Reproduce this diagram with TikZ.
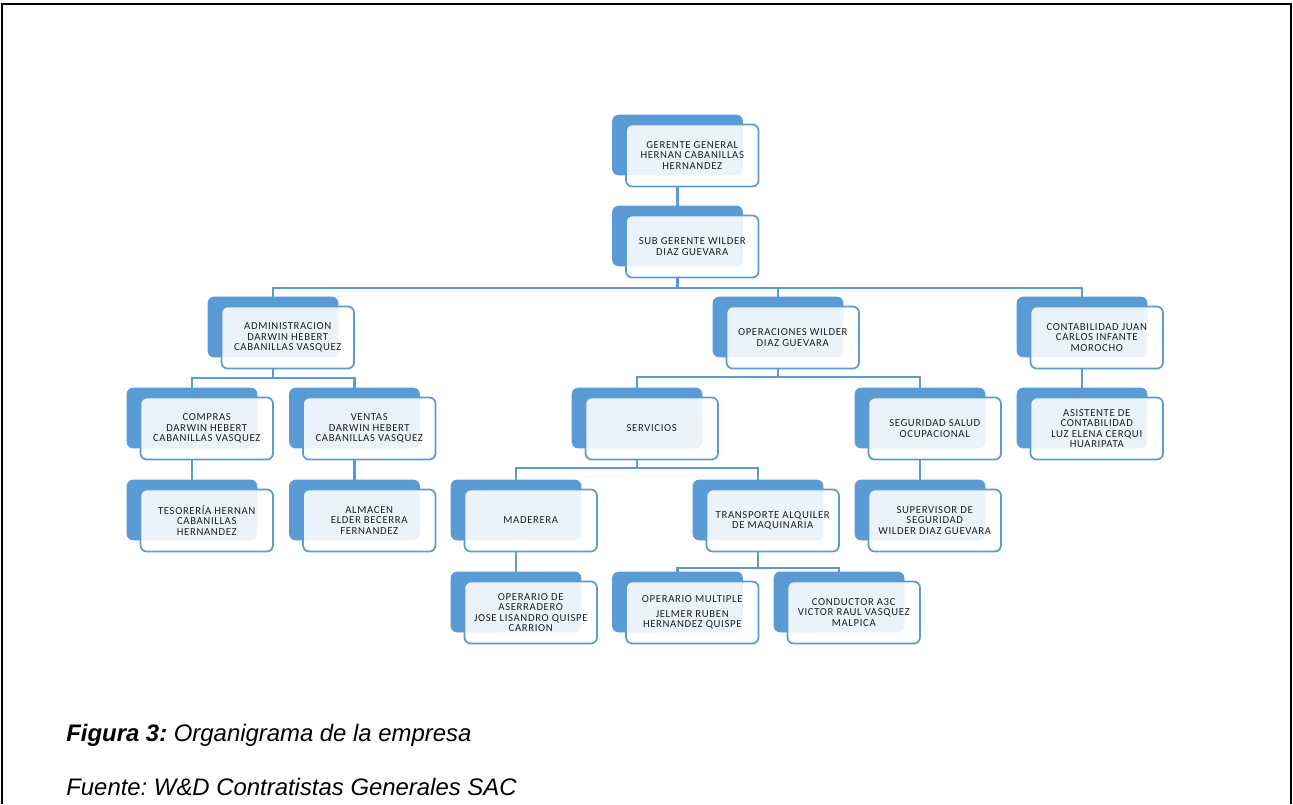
\documentclass[tikz,border=0pt]{standalone}
\usepackage{fontspec}
\setmainfont{Liberation Sans}
\newfontfamily\orgfont[LetterSpace=6]{Carlito}
\usepackage{tikz}
\usetikzlibrary{positioning}
\frenchspacing

\definecolor{azul}{HTML}{5B9BD5}
\definecolor{texto}{HTML}{1E1E1E}

\tikzset{
  atras/.style={fill=azul, draw=azul, rounded corners=3.5pt,
    minimum width=2.6cm, minimum height=1.2cm, inner sep=0pt},
  frente/.style={fill=white, fill opacity=0.88, text opacity=1, draw=azul,
    line width=1pt, rounded corners=3.5pt, minimum width=2.65cm,
    minimum height=1.24cm, inner sep=1pt, align=center, text=texto,
    font=\orgfont\fontsize{6.1}{5.9}\selectfont},
  conn/.style={draw=azul, line width=1.3pt},
  pie/.style={anchor=base west, inner sep=0pt, font=\fontsize{13.6}{16}\selectfont\itshape},
}

\begin{document}
\begin{tikzpicture}[x=0.02cm, y=-0.02cm]

\useasboundingbox (0,0) rectangle (1293,804);

% Frame (open at the bottom)
\draw[line width=1.6pt] (2,804) -- (2,4) -- (1291,4) -- (1291,804);

% Level 1 and 2
\node[atras] (gg-b) at (677.5,145) {};
\node[frente] (gg) at (692.25,155.5) {GERENTE GENERAL\\HERNAN CABANILLAS\\HERNANDEZ};
\node[atras] (sg-b) at (677.5,236) {};
\node[frente] (sg) at (692.25,246.5) {SUB GERENTE WILDER\\DIAZ GUEVARA};

% Areas
\node[atras] (adm-b) at (273,327) {};
\node[frente] (adm) at (287.75,337.5) {ADMINISTRACION\\DARWIN HEBERT\\CABANILLAS VASQUEZ};
\node[atras] (ops-b) at (778,327) {};
\node[frente] (ops) at (792.75,337.5) {OPERACIONES WILDER\\DIAZ GUEVARA};
\node[atras] (cont-b) at (1082,327) {};
\node[frente] (cont) at (1096.75,337.5) {CONTABILIDAD JUAN\\CARLOS INFANTE\\MOROCHO};

% Fourth row
\node[atras] (comp-b) at (192,418) {};
\node[frente] (comp) at (206.75,428.5) {COMPRAS\\DARWIN HEBERT\\CABANILLAS VASQUEZ};
\node[atras] (vent-b) at (354.5,418) {};
\node[frente] (vent) at (369.25,428.5) {VENTAS\\DARWIN HEBERT\\CABANILLAS VASQUEZ};
\node[atras] (serv-b) at (637,418) {};
\node[frente] (serv) at (651.75,428.5) {SERVICIOS};
\node[atras] (segu-b) at (920,418) {};
\node[frente] (segu) at (934.75,428.5) {SEGURIDAD SALUD\\OCUPACIONAL};
\node[atras] (asis-b) at (1082,418) {};
\node[frente] (asis) at (1096.75,428.5) {ASISTENTE DE\\CONTABILIDAD\\LUZ ELENA CERQUI\\HUARIPATA};

% Fifth row
\node[atras] (teso-b) at (192,510) {};
\node[frente] (teso) at (206.75,520.5) {TESORERÍA HERNAN\\CABANILLAS\\HERNANDEZ};
\node[atras] (alma-b) at (354.5,510) {};
\node[frente] (alma) at (369.25,520.5) {ALMACEN\\ELDER BECERRA\\FERNANDEZ};
\node[atras] (made-b) at (516,510) {};
\node[frente] (made) at (530.75,520.5) {MADERERA};
\node[atras] (tran-b) at (758,510) {};
\node[frente] (tran) at (772.75,520.5) {TRANSPORTE ALQUILER\\DE MAQUINARIA};
\node[atras] (supe-b) at (920,510) {};
\node[frente] (supe) at (934.75,520.5) {SUPERVISOR DE\\SEGURIDAD\\WILDER DIAZ GUEVARA};

% Bottom row
\node[atras] (aser-b) at (516,602) {};
\node[frente] (aser) at (530.75,612.5) {OPERARIO DE\\ASERRADERO\\JOSE LISANDRO QUISPE\\CARRION};
\node[atras] (mult-b) at (677.5,602) {};
\node[frente] (mult) at (692.25,612.5) {OPERARIO MULTIPLE\\[2.5pt]JELMER RUBEN\\HERNANDEZ QUISPE};
\node[atras] (cond-b) at (839,602) {};
\node[frente] (cond) at (853.75,612.5) {CONDUCTOR A3C\\VICTOR RAUL VASQUEZ\\MALPICA};

% Bus levels
\coordinate (b1) at (0,288);
\coordinate (b2) at (0,378);
\coordinate (b3) at (0,377);
\coordinate (b4) at (0,468);
\coordinate (b5) at (0,568);

% Straight links
\draw[conn] (gg-b.south |- gg.south) -- (sg-b.north);
\draw[conn] (comp-b.south |- comp.south) -- (teso-b.north);
\draw[conn] (vent-b.south |- vent.south) -- (alma-b.north);
\draw[conn] (cont-b.south |- cont.south) -- (asis-b.north);
\draw[conn] (segu-b.south |- segu.south) -- (supe-b.north);
\draw[conn] (made-b.south |- made.south) -- (aser-b.north);

% Branches
\foreach \c in {adm,ops,cont}
  \draw[conn] (sg-b.south |- sg.south) |- (\c-b.north |- b1) -- (\c-b.north);
\foreach \c in {comp,vent}
  \draw[conn] (adm-b.south |- adm.south) |- (\c-b.north |- b2) -- (\c-b.north);
\foreach \c in {serv,segu}
  \draw[conn] (ops-b.south |- ops.south) |- (\c-b.north |- b3) -- (\c-b.north);
\foreach \c in {made,tran}
  \draw[conn] (serv-b.south |- serv.south) |- (\c-b.north |- b4) -- (\c-b.north);
\foreach \c in {mult,cond}
  \draw[conn] (tran-b.south |- tran.south) |- (\c-b.north |- b5) -- (\c-b.north);

% Caption
\node[pie] (fig) at (66,741) {\textbf{Figura 3:} Organigrama de la empresa};
\node[pie] (fte) at (66,795) {Fuente: W\&D Contratistas Generales SAC};

\end{tikzpicture}
\end{document}
